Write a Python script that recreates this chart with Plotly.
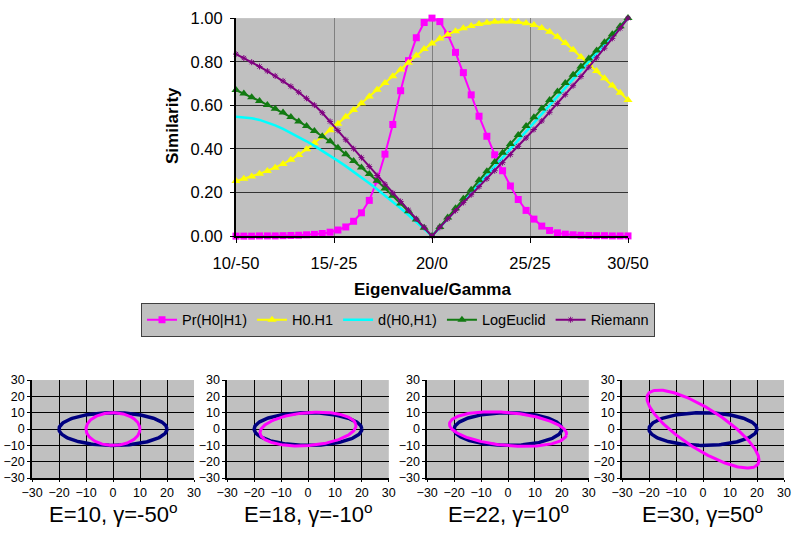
import numpy as np
import plotly.graph_objects as go

# ---------------- data: main chart ----------------
eigenvalue = [10.0, 10.4, 10.8, 11.2, 11.6, 12.0, 12.4, 12.8, 13.2, 13.6,
              14.0, 14.4, 14.8, 15.2, 15.6, 16.0, 16.4, 16.8, 17.2, 17.6,
              18.0, 18.4, 18.8, 19.2, 19.6, 20.0, 20.4, 20.8, 21.2, 21.6,
              22.0, 22.4, 22.8, 23.2, 23.6, 24.0, 24.4, 24.8, 25.2, 25.6,
              26.0, 26.4, 26.8, 27.2, 27.6, 28.0, 28.4, 28.8, 29.2, 29.6, 30.0]

x_tickvals = [10, 15, 20, 25, 30]
x_ticktext = ["10/-50", "15/-25", "20/0", "25/25", "30/50"]

pr_h0_h1 = [0.000, 0.000, 0.000, 0.001, 0.001, 0.001, 0.002, 0.003, 0.004, 0.006, 0.008,
            0.012, 0.018, 0.028, 0.042, 0.068, 0.107, 0.164, 0.256, 0.376, 0.512, 0.667,
            0.805, 0.910, 0.980, 1.000,
            0.984, 0.925, 0.843, 0.750, 0.648, 0.550, 0.458, 0.373, 0.300, 0.230, 0.168,
            0.118, 0.078, 0.046, 0.026, 0.015, 0.009, 0.006, 0.004, 0.003, 0.002, 0.002,
            0.001, 0.001, 0.001]

h0_dot_h1 = [0.253, 0.263, 0.274, 0.286, 0.299, 0.314, 0.331, 0.350, 0.372, 0.398, 0.427,
             0.456, 0.486, 0.516, 0.547, 0.578, 0.609, 0.640, 0.671, 0.702, 0.733, 0.764,
             0.795, 0.828, 0.858, 0.884, 0.906, 0.925, 0.940, 0.953, 0.964, 0.973, 0.979,
             0.983, 0.985, 0.984, 0.982, 0.977, 0.968, 0.955, 0.938, 0.914, 0.886, 0.855,
             0.822, 0.790, 0.757, 0.724, 0.691, 0.658, 0.624]

d_h0_h1 = [0.548, 0.546, 0.541, 0.533, 0.522, 0.508, 0.492, 0.474, 0.455, 0.435, 0.414,
           0.392, 0.369, 0.345, 0.321, 0.296, 0.270, 0.243, 0.215, 0.187, 0.158, 0.128,
           0.097, 0.065, 0.033, 0.000,
           0.040, 0.080, 0.120, 0.160, 0.200, 0.240, 0.281, 0.321, 0.361, 0.402, 0.442,
           0.482, 0.522, 0.562, 0.602, 0.642, 0.682, 0.722, 0.761, 0.801, 0.841, 0.880,
           0.920, 0.960, 1.000]

log_euclid = [0.670, 0.654, 0.637, 0.620, 0.602, 0.584, 0.567, 0.546, 0.526, 0.505, 0.482,
              0.458, 0.435, 0.405, 0.375, 0.345, 0.315, 0.285, 0.254, 0.219, 0.185, 0.150,
              0.114, 0.076, 0.038, 0.000,
              0.042, 0.085, 0.128, 0.171, 0.213, 0.256, 0.298, 0.340, 0.382, 0.423, 0.464,
              0.505, 0.545, 0.585, 0.624, 0.663, 0.702, 0.740, 0.778, 0.815, 0.852, 0.889,
              0.926, 0.963, 1.000]

riemann = [0.835, 0.817, 0.798, 0.778, 0.757, 0.735, 0.712, 0.687, 0.660, 0.632, 0.601,
           0.566, 0.526, 0.485, 0.442, 0.401, 0.360, 0.319, 0.278, 0.238, 0.198, 0.159,
           0.119, 0.079, 0.040, 0.000,
           0.040, 0.079, 0.117, 0.154, 0.190, 0.227, 0.263, 0.300, 0.337, 0.374, 0.412,
           0.450, 0.489, 0.528, 0.568, 0.608, 0.649, 0.690, 0.732, 0.775, 0.818, 0.862,
           0.907, 0.953, 1.000]

# ---------------- data: ellipse panels ----------------
ellipse_E = [10, 18, 22, 30]
ellipse_gamma = [-50, -10, 10, 50]
ref_major = 20
ref_minor = 10
small_ticks = [-30, -20, -10, 0, 10, 20, 30]

FONT = "Liberation Sans, Arial, sans-serif"

fig = go.Figure()

series = [
    ("Pr(H0|H1)", pr_h0_h1, "#FF00FF", dict(symbol="square", size=7, color="#FF00FF")),
    ("H0.H1", h0_dot_h1, "#FFFF00", dict(symbol="triangle-up", size=8, color="#FFFF00")),
    ("d(H0,H1)", d_h0_h1, "#00FFFF", None),
    ("LogEuclid", log_euclid, "#127A12", dict(symbol="triangle-up", size=8, color="#127A12")),
    ("Riemann", riemann, "#800080", dict(symbol="asterisk-open", size=5,
                                          line=dict(color="#B080B0", width=1))),
]
for name, vals, col, mk in series:
    if mk is None:
        fig.add_trace(go.Scatter(x=eigenvalue, y=vals, name=name, mode="lines",
                                 line=dict(color=col, width=2.5), cliponaxis=False,
                                 xaxis="x", yaxis="y"))
    else:
        fig.add_trace(go.Scatter(x=eigenvalue, y=vals, name=name, mode="lines+markers",
                                 line=dict(color=col, width=2), marker=mk,
                                 cliponaxis=False, xaxis="x", yaxis="y"))

# ellipse panels
t = np.linspace(0, 2 * np.pi, 200)
x_domains = [[0.040, 0.2425], [0.284, 0.486], [0.534, 0.736], [0.7775, 0.98]]
annotations = []
layout_axes = {}
for k in range(4):
    xa = "x%d" % (k + 2)
    ya = "y%d" % (k + 2)
    bx = ref_major * np.cos(t)
    by = ref_minor * np.sin(t)
    fig.add_trace(go.Scatter(x=bx, y=by, mode="lines", line=dict(color="#000080", width=3.5),
                             showlegend=False, xaxis=xa, yaxis=ya, hoverinfo="skip"))
    th = np.deg2rad(-ellipse_gamma[k])
    E = ellipse_E[k]
    px = E * np.cos(t) * np.cos(th) - ref_minor * np.sin(t) * np.sin(th)
    py = E * np.cos(t) * np.sin(th) + ref_minor * np.sin(t) * np.cos(th)
    fig.add_trace(go.Scatter(x=px, y=py, mode="lines", line=dict(color="#FF00FF", width=3),
                             showlegend=False, xaxis=xa, yaxis=ya, hoverinfo="skip"))
    layout_axes["xaxis%d" % (k + 2)] = dict(
        domain=x_domains[k], range=[-30, 30], tickvals=small_ticks, anchor=ya,
        automargin=False,
        showgrid=True, gridcolor="#000000", gridwidth=1, zeroline=False,
        showline=True, linecolor="#000000", linewidth=1.5, ticks="outside", ticklen=2,
        tickcolor="#000000", tickfont=dict(family=FONT, size=12.5, color="#000000"))
    layout_axes["yaxis%d" % (k + 2)] = dict(
        domain=[0.103, 0.287], range=[-30, 30], tickvals=small_ticks, anchor=xa,
        automargin=False,
        showgrid=True, gridcolor="#000000", gridwidth=1, zeroline=False,
        showline=True, linecolor="#000000", linewidth=1.5, ticks="outside", ticklen=3,
        tickcolor="#000000", tickfont=dict(family=FONT, size=12.5, color="#000000"))
    annotations.append(dict(
        text="E=%d, \u03b3=%d<sup>o</sup>" % (E, ellipse_gamma[k]),
        x=(x_domains[k][0] + x_domains[k][1]) / 2, y=0.038, xref="paper", yref="paper",
        showarrow=False, xanchor="center", yanchor="middle",
        font=dict(family=FONT, size=22, color="#000000")))

annotations.append(dict(text="<b>Similarity</b>", x=0.215, y=0.7636, xref="paper", yref="paper",
                        showarrow=False, textangle=-90, xanchor="center", yanchor="middle",
                        font=dict(family=FONT, size=17, color="#000000")))
annotations.append(dict(text="<b>Eigenvalue/Gamma</b>", x=0.54, y=0.456, xref="paper", yref="paper",
                        showarrow=False, xanchor="center", yanchor="middle",
                        font=dict(family=FONT, size=17, color="#000000")))

fig.update_layout(
    width=800, height=533,
    margin=dict(l=0, r=0, t=0, b=0, pad=0),
    paper_bgcolor="#FFFFFF",
    plot_bgcolor="#C0C0C0",
    font=dict(family=FONT, color="#000000"),
    xaxis=dict(domain=[0.295, 0.785], range=[10, 30], tickvals=x_tickvals, ticktext=x_ticktext,
               anchor="y", automargin=False,
               showgrid=True, gridcolor="#808080", gridwidth=1, zeroline=False,
               showline=True, linecolor="#000000", linewidth=2, ticks="outside", ticklen=5,
               tickcolor="#000000", ticklabelstandoff=6,
               tickfont=dict(family=FONT, size=16.5, color="#000000")),
    yaxis=dict(domain=[0.557, 0.966], range=[0, 1], dtick=0.2, tickformat=".2f", anchor="x",
               automargin=False,
               showgrid=True, gridcolor="#333333", gridwidth=1, zeroline=False,
               showline=True, linecolor="#000000", linewidth=2, ticks="outside", ticklen=4,
               tickcolor="#000000", ticklabelstandoff=4,
               tickfont=dict(family=FONT, size=16.5, color="#000000")),
    legend=dict(orientation="h", x=0.4975, xanchor="center", y=0.4, yanchor="middle",
                bgcolor="#C0C0C0", bordercolor="#404040", borderwidth=1, itemwidth=30,
                font=dict(family=FONT, size=14.5, color="#000000"), tracegroupgap=0),
    annotations=annotations,
    showlegend=True,
    **layout_axes,
)

fig.write_html("out.html", config={"displayModeBar": False},
               post_script="document.body.style.margin='0px';document.body.style.padding='0px';")
